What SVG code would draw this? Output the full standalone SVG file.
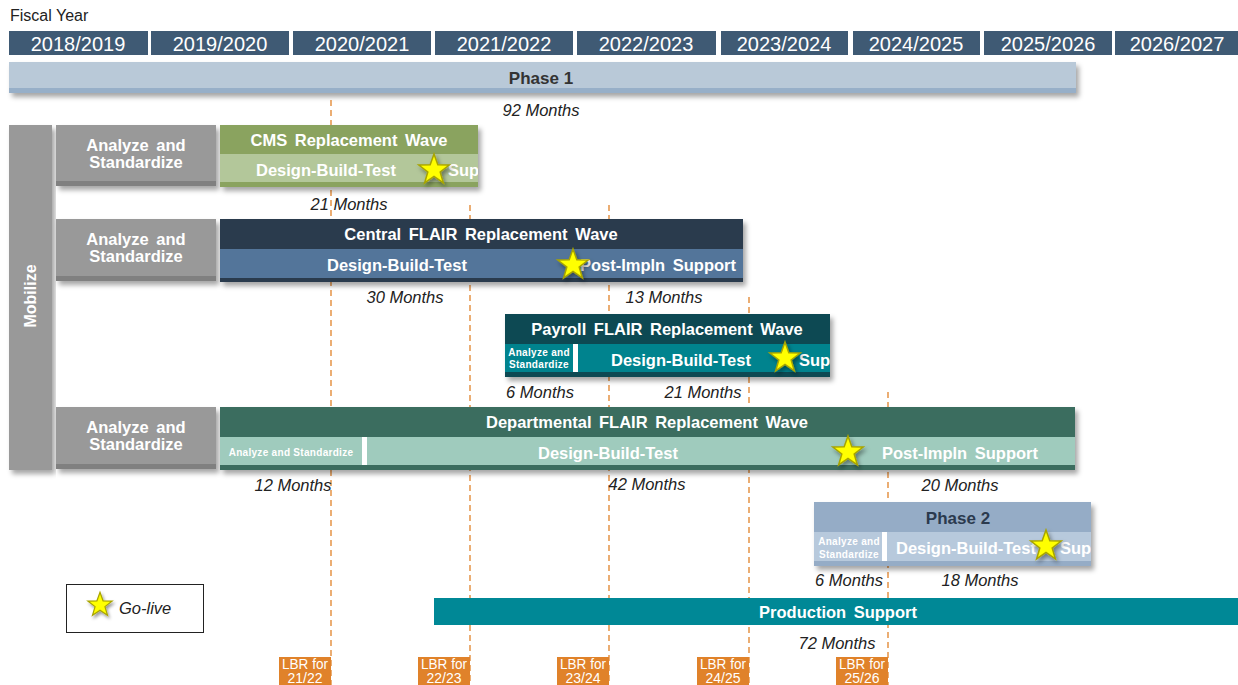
<svg xmlns="http://www.w3.org/2000/svg" xmlns:xlink="http://www.w3.org/1999/xlink" width="1238" height="685" viewBox="0 0 1238 685">
<style>
text{font-family:"Liberation Sans",Arial,sans-serif}
.yr{fill:#3f5a74}
.yt{fill:#fff;font-size:20px;text-anchor:middle}
.t{fill:#fff;font-size:16.5px;font-weight:bold;text-anchor:middle;word-spacing:3px}
.st{text-anchor:start}
.sm{fill:#fff;font-size:10px;font-weight:bold;text-anchor:middle;letter-spacing:0.3px}
.mo{fill:#222;font-size:16.5px;font-style:italic;text-anchor:middle}
.dash{stroke:#e0832a;stroke-width:1.3;stroke-dasharray:6,4;fill:none}
.lbr{fill:#e0822a}
.lt{fill:#fff;font-size:14px;text-anchor:middle}
.star{fill:#ffff00;stroke:#a8a400;stroke-width:1.5}
</style>
<defs>
<filter id="sh" x="-5%" y="-20%" width="112%" height="160%">
<feDropShadow dx="3" dy="4" stdDeviation="2.5" flood-color="#000" flood-opacity="0.35"/>
</filter>
<filter id="ssh" x="-50%" y="-50%" width="200%" height="200%">
<feDropShadow dx="2" dy="3" stdDeviation="2" flood-color="#000" flood-opacity="0.4"/>
</filter>
<polygon id="star" class="star" points="0,-16 3.82,-5.26 15.22,-4.94 6.18,2.01 9.4,12.94 0,6.5 -9.4,12.94 -6.18,2.01 -15.22,-4.94 -3.82,-5.26"/>
<clipPath id="cCMS"><rect x="220" y="125" width="258" height="62"/></clipPath>
<clipPath id="cPay"><rect x="505" y="314" width="325" height="63"/></clipPath>
<clipPath id="cP2"><rect x="814" y="502" width="277" height="64"/></clipPath>
</defs>
<rect width="1238" height="685" fill="#fff"/>

<g id="header">
<text x="10" y="21" font-size="16" fill="#222">Fiscal Year</text>
<rect class="yr" x="9" y="31" width="139" height="24"/><text class="yt" x="78" y="51">2018/2019</text>
<rect class="yr" x="151" y="31" width="138" height="24"/><text class="yt" x="220" y="51">2019/2020</text>
<rect class="yr" x="293" y="31" width="138" height="24"/><text class="yt" x="362" y="51">2020/2021</text>
<rect class="yr" x="435" y="31" width="138" height="24"/><text class="yt" x="504" y="51">2021/2022</text>
<rect class="yr" x="577" y="31" width="139" height="24"/><text class="yt" x="646" y="51">2022/2023</text>
<rect class="yr" x="721" y="31" width="127" height="24"/><text class="yt" x="784" y="51">2023/2024</text>
<rect class="yr" x="853" y="31" width="127" height="24"/><text class="yt" x="916" y="51">2024/2025</text>
<rect class="yr" x="984" y="31" width="128" height="24"/><text class="yt" x="1048" y="51">2025/2026</text>
<rect class="yr" x="1115" y="31" width="123" height="24"/><text class="yt" x="1177" y="51">2026/2027</text>
</g>

<g id="phase1">
<g filter="url(#sh)">
<rect x="9" y="62" width="1067" height="31" fill="#b9c9d8"/>
<rect x="9" y="88" width="1067" height="5" fill="#97afc8"/>
</g>
<text x="541" y="84" font-size="17" font-weight="bold" fill="#333" text-anchor="middle">Phase 1</text>
<text class="mo" x="541" y="116">92 Months</text>
</g>

<g id="mobilize">
<rect x="9" y="125" width="43" height="345" fill="#999" filter="url(#sh)"/>
<text transform="translate(36,296) rotate(-90)" class="t" style="font-size:16px">Mobilize</text>
</g>

<g id="analyze1" filter="url(#sh)">
<rect x="56" y="125" width="160" height="61" fill="#999"/><rect x="56" y="181" width="160" height="5" fill="#808080"/>
</g>
<text class="t" x="136" y="151">Analyze and</text><text class="t" x="136" y="168">Standardize</text>
<g id="analyze2" filter="url(#sh)">
<rect x="56" y="219" width="160" height="62" fill="#999"/><rect x="56" y="276" width="160" height="5" fill="#808080"/>
</g>
<text class="t" x="136" y="245">Analyze and</text><text class="t" x="136" y="262">Standardize</text>
<g id="analyze4" filter="url(#sh)">
<rect x="56" y="407" width="160" height="62" fill="#999"/><rect x="56" y="464" width="160" height="5" fill="#808080"/>
</g>
<text class="t" x="136" y="433">Analyze and</text><text class="t" x="136" y="450">Standardize</text>

<g id="connectors">
<line class="dash" x1="331" y1="100" x2="331" y2="685"/>
<line class="dash" x1="470" y1="205" x2="470" y2="685"/>
<line class="dash" x1="609" y1="205" x2="609" y2="685"/>
<line class="dash" x1="749" y1="297" x2="749" y2="685"/>
<line class="dash" x1="888" y1="392" x2="888" y2="685"/>
</g>

<g id="cms">
<g filter="url(#sh)">
<rect x="220" y="125" width="258" height="62" fill="#8aa35e"/>
<rect x="220" y="154" width="258" height="28" fill="#b3c79a"/>
</g>
<text class="t" x="349" y="146">CMS Replacement Wave</text>
<g clip-path="url(#cCMS)">
<text class="t" x="326" y="176">Design-Build-Test</text>
<text class="t st" x="448" y="176">Support</text>
</g>
<use xlink:href="#star" x="434" y="170" filter="url(#ssh)"/>
<text class="mo" x="349" y="210">21 Months</text>
</g>

<g id="central">
<g filter="url(#sh)">
<rect x="220" y="219" width="523" height="63" fill="#2b3a4e"/>
<rect x="220" y="249" width="523" height="29" fill="#52749a"/>
</g>
<text class="t" x="481" y="240">Central FLAIR Replacement Wave</text>
<text class="t" x="397" y="271">Design-Build-Test</text>
<text class="t" x="658" y="271">Post-Impln Support</text>
<use xlink:href="#star" x="573" y="265" filter="url(#ssh)"/>
<text class="mo" x="405" y="303">30 Months</text>
<text class="mo" x="664" y="303">13 Months</text>
</g>

<g id="payroll">
<g filter="url(#sh)">
<rect x="505" y="314" width="325" height="63" fill="#0c4a52"/>
<rect x="505" y="344" width="325" height="28" fill="#05838e"/>
</g>
<rect x="573" y="344" width="5" height="28" fill="#fff"/>
<text class="t" x="667" y="335">Payroll FLAIR Replacement Wave</text>
<text class="sm" x="539" y="356">Analyze and</text><text class="sm" x="539" y="368">Standardize</text>
<g clip-path="url(#cPay)">
<text class="t" x="681" y="366">Design-Build-Test</text>
<text class="t st" x="799" y="366">Support</text>
</g>
<use xlink:href="#star" x="785" y="358" filter="url(#ssh)"/>
<text class="mo" x="540" y="398">6 Months</text>
<text class="mo" x="703" y="398">21 Months</text>
</g>

<g id="departmental">
<g filter="url(#sh)">
<rect x="220" y="407" width="855" height="63" fill="#3b6d5f"/>
<rect x="220" y="437" width="855" height="28" fill="#9fcbbd"/>
</g>
<rect x="362" y="437" width="5" height="28" fill="#fff"/>
<text class="t" x="647" y="428">Departmental FLAIR Replacement Wave</text>
<text class="sm" x="291" y="456">Analyze and Standardize</text>
<text class="t" x="608" y="459">Design-Build-Test</text>
<text class="t" x="960" y="459">Post-Impln Support</text>
<use xlink:href="#star" x="848" y="452" filter="url(#ssh)"/>
<text class="mo" x="293" y="491">12 Months</text>
<text class="mo" x="647" y="490">42 Months</text>
<text class="mo" x="960" y="491">20 Months</text>
</g>

<g id="phase2">
<g filter="url(#sh)">
<rect x="814" y="502" width="277" height="64" fill="#95acc6"/>
<rect x="814" y="532" width="277" height="29" fill="#b7c9dc"/>
</g>
<rect x="882" y="532" width="5" height="29" fill="#fff"/>
<text x="958" y="524" font-size="17" font-weight="bold" fill="#2b3a4e" text-anchor="middle">Phase 2</text>
<text class="sm" x="849" y="545">Analyze and</text><text class="sm" x="849" y="558">Standardize</text>
<g clip-path="url(#cP2)">
<text class="t st" x="896" y="554">Design-Build-Test</text>
<text class="t st" x="1060" y="554">Support</text>
</g>
<use xlink:href="#star" x="1046" y="546" filter="url(#ssh)"/>
<text class="mo" x="849" y="586">6 Months</text>
<text class="mo" x="980" y="586">18 Months</text>
</g>

<g id="production">
<rect x="434" y="598" width="804" height="27" fill="#008896"/>
<text class="t" x="838" y="618">Production Support</text>
<text class="mo" x="837" y="649">72 Months</text>
</g>

<g id="legend">
<rect x="66.5" y="584.5" width="137" height="48" fill="#fff" stroke="#222" stroke-width="1"/>
<use xlink:href="#star" x="100" y="605" transform="translate(100,605) scale(0.8) translate(-100,-605)" filter="url(#ssh)"/>
<text x="119" y="614" font-size="16.5" font-style="italic" fill="#222">Go-live</text>
</g>

<g id="lbr">
<rect class="lbr" x="279" y="657" width="52" height="28"/><text class="lt" x="305" y="669" textLength="46" lengthAdjust="spacingAndGlyphs">LBR for</text><text class="lt" x="305" y="683">21/22</text>
<rect class="lbr" x="418" y="657" width="52" height="28"/><text class="lt" x="444" y="669" textLength="46" lengthAdjust="spacingAndGlyphs">LBR for</text><text class="lt" x="444" y="683">22/23</text>
<rect class="lbr" x="557" y="657" width="52" height="28"/><text class="lt" x="583" y="669" textLength="46" lengthAdjust="spacingAndGlyphs">LBR for</text><text class="lt" x="583" y="683">23/24</text>
<rect class="lbr" x="697" y="657" width="52" height="28"/><text class="lt" x="723" y="669" textLength="46" lengthAdjust="spacingAndGlyphs">LBR for</text><text class="lt" x="723" y="683">24/25</text>
<rect class="lbr" x="836" y="657" width="52" height="28"/><text class="lt" x="862" y="669" textLength="46" lengthAdjust="spacingAndGlyphs">LBR for</text><text class="lt" x="862" y="683">25/26</text>
</g>
</svg>
